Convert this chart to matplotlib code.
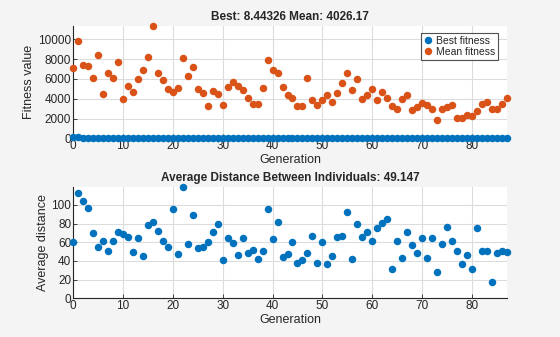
import matplotlib.pyplot as plt
import numpy as np

plt.rcParams['font.family'] = ['Liberation Sans', 'DejaVu Sans']

generations = list(range(88))

mean_fitness = [7071, 9832, 7374, 7273, 6061, 8418, 4444, 6599, 6061, 7677,
                3973, 5253, 4680, 5960, 6902, 8182, 11347, 6599, 5859, 4949,
                4680, 5051, 8081, 6263, 7172, 4949, 4545, 3232, 4781, 4444,
                3333, 5152, 5657, 5253, 4882, 4040, 3434, 3434, 5051, 7879,
                6869, 6566, 5152, 4343, 4040, 3232, 3232, 6061, 3872, 3333,
                3872, 4377, 3670, 4545, 5556, 6599, 4848, 5960, 3939, 4343,
                4949, 3838, 4680, 4040, 3232, 2997, 3939, 4377, 2828, 3131,
                3569, 3333, 2997, 1818, 2997, 3131, 3333, 2020, 2020, 2391,
                2222, 2761, 3434, 3670, 2997, 2997, 3434, 4026.17]

best_fitness = [160, 150, 60, 45, 40, 38, 35, 33, 31, 30,
                29, 28, 27, 26, 25, 24, 23, 22, 21, 20,
                20, 19, 19, 18, 18, 17, 17, 16, 16, 15,
                15, 15, 14, 14, 14, 13, 13, 13, 13, 12,
                12, 12, 12, 11, 11, 11, 11, 11, 10.5, 10.5,
                10.5, 10.3, 10.2, 10.1, 10, 10, 9.9, 9.8, 9.7, 9.6,
                9.5, 9.5, 9.4, 9.3, 9.3, 9.2, 9.2, 9.1, 9.1, 9.0,
                9.0, 8.9, 8.9, 8.8, 8.8, 8.8, 8.7, 8.7, 8.7, 8.6,
                8.6, 8.6, 8.5, 8.5, 8.5, 8.46, 8.45, 8.44326]

avg_distance = [60.6, 112.8, 104.3, 96.8, 70.2, 55.3, 61.7, 51.1, 61.7, 70.6,
                68.4, 66.0, 50.0, 64.9, 45.7, 78.7, 81.9, 72.3, 61.7, 55.3,
                95.7, 47.9, 119.5, 58.5, 89.4, 53.9, 55.0, 60.6, 71.3, 79.8,
                41.5, 64.9, 59.6, 46.8, 64.9, 48.9, 52.1, 42.6, 51.1, 95.7,
                63.8, 81.9, 44.3, 47.9, 60.6, 38.3, 41.5, 48.9, 67.0, 38.3,
                60.6, 37.2, 45.7, 66.0, 67.0, 92.6, 42.6, 79.8, 66.0, 71.3,
                61.7, 75.5, 80.9, 85.1, 30.9, 61.7, 43.6, 71.3, 57.4, 48.9,
                64.9, 43.6, 64.9, 27.7, 58.5, 76.6, 61.7, 51.1, 36.2, 46.8,
                31.9, 75.5, 51.1, 50.4, 17.0, 48.9, 51.1, 49.147]

blue = '#0072BD'
orange = '#D95319'
ink = '#262626'

fig = plt.figure(figsize=(5.6, 3.37), dpi=100, facecolor='#f4f4f4')
W, H = 560, 337
ax1 = fig.add_axes([73.3 / W, 1 - 138.3 / H, 433.4 / W, 112.3 / H])
ax2 = fig.add_axes([73.3 / W, 1 - 298.3 / H, 433.4 / W, 111.6 / H])


def style(ax):
    ax.set_facecolor('white')
    for s in ('top', 'right'):
        ax.spines[s].set_visible(False)
    for s in ('left', 'bottom'):
        ax.spines[s].set_color(ink)
        ax.spines[s].set_linewidth(0.8)
    ax.tick_params(colors=ink, labelsize=8.5, direction='in', length=3, width=0.6, pad=1.5)
    ax.grid(True, color='#dcdcdc', linewidth=0.8)
    ax.set_axisbelow(True)
    ax.set_xlim(0, 87)
    ax.set_xticks(range(0, 90, 10))
    ax.set_xlabel('Generation', fontsize=9, color=ink, labelpad=1)


ms = 5.4
ax1.plot(generations, best_fitness, 'o', color=blue, ms=ms, mec='none',
         label='Best fitness', clip_on=False, zorder=3)
ax1.plot(generations, mean_fitness, 'o', color=orange, ms=ms, mec='none',
         label='Mean fitness', clip_on=False, zorder=3)
style(ax1)
ax1.set_ylim(0, 11347)
ax1.set_yticks(range(0, 10001, 2000))
ax1.set_ylabel('Fitness value', fontsize=9, color=ink, labelpad=2)
ax1.set_title('Best: %g Mean: %g' % (best_fitness[-1], mean_fitness[-1]),
              fontsize=8.5, fontweight='bold', color=ink, pad=4)
leg = ax1.legend(loc='upper right', bbox_to_anchor=(0.98, 0.94), fontsize=7.5,
                 frameon=True, fancybox=False, handlelength=0.8, handletextpad=0.3,
                 borderpad=0.3, labelspacing=0.1, borderaxespad=0, markerscale=1.0)
leg.get_frame().set_edgecolor(ink)
leg.get_frame().set_linewidth(0.8)
for t in leg.get_texts():
    t.set_color(ink)

ax2.plot(generations, avg_distance, 'o', color=blue, ms=ms, mec='none',
         clip_on=False, zorder=3)
style(ax2)
ax2.set_ylim(0, 119.5)
ax2.set_yticks(range(0, 101, 20))
ax2.set_ylabel('Average distance', fontsize=9, color=ink, labelpad=2)
ax2.set_title('Average Distance Between Individuals: %g' % avg_distance[-1],
              fontsize=8.5, fontweight='bold', color=ink, pad=4)

fig.savefig('out.png', dpi=100, facecolor=fig.get_facecolor())
